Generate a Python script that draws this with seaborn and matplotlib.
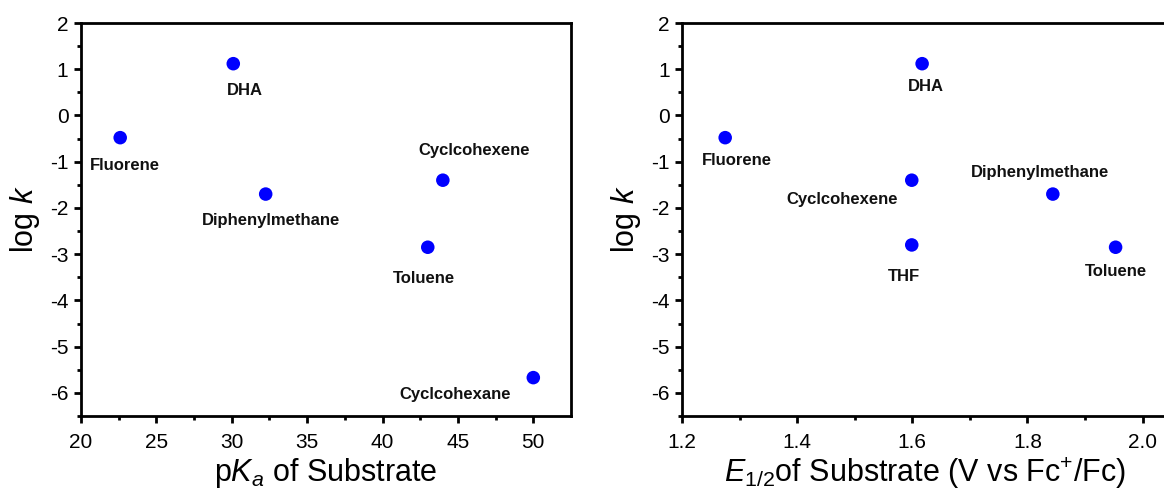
import matplotlib
matplotlib.use("Agg")
import matplotlib.pyplot as plt
import seaborn as sns
import pandas as pd

# ---- data ----
pka_names = ["Fluorene", "DHA", "Diphenylmethane", "Cyclcohexene", "Toluene", "Cyclcohexane"]
pka_values = [22.6, 30.1, 32.25, 44.0, 43.0, 50.0]
pka_logk = [-0.48, 1.12, -1.70, -1.40, -2.85, -5.67]

e_names = ["Fluorene", "DHA", "Cyclcohexene", "THF", "Diphenylmethane", "Toluene"]
e_values = [1.275, 1.617, 1.599, 1.599, 1.844, 1.953]
e_logk = [-0.48, 1.12, -1.40, -2.80, -1.70, -2.85]

# label offsets (pixels) relative to each point
pka_offsets = [(5, -28), (12, -27), (5, -26), (31, 30), (-4, -31), (-78, -17)]
e_offsets = [(12, -23), (4, -23), (-70, -19), (-8, -32), (-13, 22), (0, -24)]

sns.set_theme(style="ticks")
plt.rcParams['font.family'] = ['Liberation Sans', 'DejaVu Sans']
plt.rcParams['mathtext.fontset'] = 'custom'
plt.rcParams['mathtext.rm'] = 'Liberation Sans'
plt.rcParams['mathtext.it'] = 'Liberation Sans:italic'
plt.rcParams['mathtext.bf'] = 'Liberation Sans:bold'
plt.rcParams['axes.unicode_minus'] = False
plt.rcParams['text.color'] = 'black'
plt.rcParams['axes.labelcolor'] = 'black'
plt.rcParams['xtick.color'] = 'black'
plt.rcParams['ytick.color'] = 'black'

W, H = 1164, 494
fig = plt.figure(figsize=(W / 100, H / 100), dpi=100)
ax1 = fig.add_axes([81 / W, 1 - 416 / H, (571 - 81) / W, (416 - 23) / H])
ax2 = fig.add_axes([682 / W, 1 - 416 / H, (1168 - 682) / W, (416 - 23) / H])

df1 = pd.DataFrame({"x": pka_values, "y": pka_logk, "name": pka_names})
df2 = pd.DataFrame({"x": e_values, "y": e_logk, "name": e_names})

for ax, df, offs in [(ax1, df1, pka_offsets), (ax2, df2, e_offsets)]:
    sns.scatterplot(data=df, x="x", y="y", ax=ax, color="#0000ff", s=95,
                    edgecolor="none", legend=False, zorder=3, clip_on=False)
    for (xv, yv, nm), (dx, dy) in zip(df[["x", "y", "name"]].values, offs):
        ax.annotate(nm, (xv, yv), xytext=(dx, dy), textcoords="offset pixels",
                    ha="center", va="center", fontsize=12, fontweight="bold",
                    color="#111111")
    ax.set_ylim(-6.5, 2)
    ax.set_yticks(range(-6, 3))
    ax.set_yticks([v + 0.5 for v in range(-7, 2)], minor=True)
    ax.set_ylim(-6.5, 2)
    for s in ax.spines.values():
        s.set_linewidth(2.0)
        s.set_color("black")
        s.set_visible(True)
    ax.tick_params(which="major", direction="out", length=5, width=2.0,
                   labelsize=15, colors="black", top=False, right=False, pad=4)
    ax.tick_params(axis="x", which="major", pad=7)
    ax.tick_params(which="minor", direction="out", length=3, width=2.0,
                   top=False, right=False)
    ax.set_ylabel("log $\\mathit{k}$", fontsize=22, labelpad=6)

ax1.set_xlim(20, 52.5)
ax1.set_xticks(range(20, 55, 5))
ax1.set_xticks([22.5 + 5 * i for i in range(6)], minor=True)
ax1.set_xlabel("p$\\mathit{K}_{\\mathit{a}}$ of Substrate", fontsize=22, labelpad=3)

ax2.set_xlim(1.2, 2.044)
ax2.set_xticks([1.2, 1.4, 1.6, 1.8, 2.0])
ax2.set_xticklabels(["1.2", "1.4", "1.6", "1.8", "2.0"])
ax2.set_xticks([1.3, 1.5, 1.7, 1.9], minor=True)
ax2.set_xlabel("$\\mathit{E}_{\\mathit{1/2}}$of Substrate (V vs Fc$^{+}$/Fc)",
               fontsize=22, labelpad=3)

fig.savefig("out.png", dpi=100, facecolor="white")
